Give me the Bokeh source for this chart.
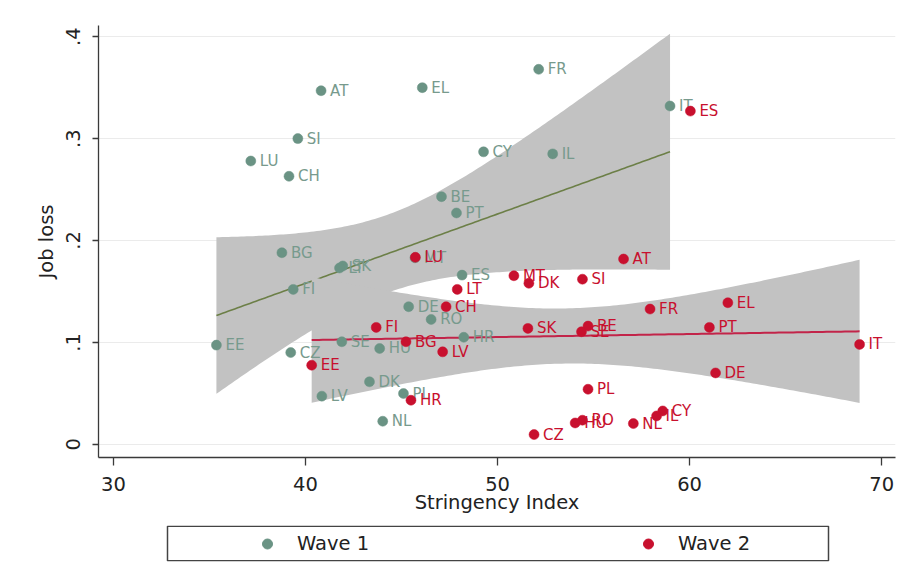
import numpy as np
from bokeh.plotting import figure
from bokeh.layouts import column
from bokeh.models import ColumnDataSource, FixedTicker, Legend, LegendItem, Range1d
from bokeh.core.properties import value
from bokeh.embed import file_html
from bokeh.resources import INLINE

# ---------------- data ----------------
w1_country = ["AT", "EL", "FR", "SI", "LU", "CH", "CY", "IL", "IT", "BE", "PT", "BG",
              "SK", "LT", "MT", "FI", "ES", "DE", "RO", "HR", "EE", "SE", "HU", "CZ",
              "DK", "PL", "LV", "NL"]
w1_stringency = [40.81, 46.08, 52.14, 39.60, 37.15, 39.14, 49.27, 52.87, 58.98, 47.08, 47.86, 38.77,
                 41.94, 41.77, 45.70, 39.36, 48.15, 45.37, 46.54, 48.24, 35.36, 41.89, 43.86, 39.23,
                 43.33, 45.10, 40.85, 44.02]
w1_jobloss = [0.347, 0.350, 0.368, 0.300, 0.278, 0.263, 0.287, 0.285, 0.332, 0.243, 0.227, 0.188,
              0.175, 0.173, 0.183, 0.152, 0.166, 0.135, 0.1225, 0.105, 0.0973, 0.1006, 0.094, 0.090,
              0.0613, 0.0498, 0.0472, 0.0226]

w2_country = ["ES", "LU", "AT", "MT", "DK", "SI", "LT", "CH", "FI", "BG", "LV", "EE",
              "HR", "CZ", "SK", "BE", "SE", "FR", "EL", "PT", "DE", "PL", "RO", "HU",
              "NL", "CY", "IL", "IT"]
w2_stringency = [60.04, 45.72, 56.56, 50.85, 51.63, 54.42, 47.90, 47.32, 43.68, 45.23, 47.14, 40.32,
                 45.49, 51.90, 51.58, 54.71, 54.37, 57.94, 61.99, 61.03, 61.35, 54.71, 54.42, 54.04,
                 57.07, 58.60, 58.28, 68.85]
w2_jobloss = [0.327, 0.1835, 0.1818, 0.1654, 0.158, 0.162, 0.152, 0.135, 0.1147, 0.1006, 0.0907, 0.0776,
              0.0432, 0.0095, 0.1137, 0.116, 0.1104, 0.1327, 0.1389, 0.1147, 0.070, 0.054, 0.0236, 0.0209,
              0.0203, 0.0327, 0.0278, 0.098]

x_ticks = [30, 40, 50, 60, 70]
y_ticks = [0, 0.1, 0.2, 0.3, 0.4]
y_tick_labels = ["0", ".1", ".2", ".3", ".4"]
series_names = ["Wave 1", "Wave 2"]

T95 = 2.0555  # Student t, 0.975 quantile, 26 degrees of freedom


def fit_ci(x, y, npts=150):
    x = np.asarray(x, float)
    y = np.asarray(y, float)
    n = len(x)
    b, a = np.polyfit(x, y, 1)
    resid = y - (a + b * x)
    s = np.sqrt((resid ** 2).sum() / (n - 2))
    xx = np.linspace(x.min(), x.max(), npts)
    yy = a + b * xx
    se = s * np.sqrt(1.0 / n + (xx - x.mean()) ** 2 / ((x - x.mean()) ** 2).sum())
    return xx, yy, yy - T95 * se, yy + T95 * se


# ---------------- styling ----------------
FONT = "DejaVu Sans"
GREEN = "#6a9384"
GREEN_TXT = "#779a8d"
RED = "#c8102e"
LINE_GREEN = "#6c7f47"
LINE_RED = "#c22449"
BAND = "#c2c2c2"
AXIS = "#3a3a3a"
TXT = "#222222"

FRAME_W = 797
LEFT = 98
RIGHT = 6

p = figure(
    x_range=(29.22, 70.72), y_range=(-0.013, 0.411),
    frame_width=FRAME_W, frame_height=432,
    output_backend="svg", toolbar_location=None,
    min_border_left=LEFT, min_border_top=25, min_border_right=RIGHT, min_border_bottom=64,
    background_fill_color="white", border_fill_color="white",
)
p.outline_line_color = None

# confidence bands and fitted lines
f1 = fit_ci(w1_stringency, w1_jobloss)
f2 = fit_ci(w2_stringency, w2_jobloss)
p.varea(x=f1[0], y1=f1[2], y2=f1[3], fill_color=BAND, fill_alpha=1.0)
p.line(x=f1[0], y=f1[1], line_color=LINE_GREEN, line_width=1.6)
p.varea(x=f2[0], y1=f2[2], y2=f2[3], fill_color=BAND, fill_alpha=1.0)
p.line(x=f2[0], y=f2[1], line_color=LINE_RED, line_width=2.0)

# scatter with labels
src1 = ColumnDataSource(dict(x=w1_stringency, y=w1_jobloss, lab=w1_country))
src2 = ColumnDataSource(dict(x=w2_stringency, y=w2_jobloss, lab=w2_country))

p.scatter("x", "y", source=src1, size=10, fill_color=GREEN, line_color=GREEN, line_width=0.5)
p.text("x", "y", text="lab", source=src1, x_offset=9, text_align="left", text_baseline="middle",
       text_font=value(FONT), text_font_size="15px", text_color=GREEN_TXT)
p.scatter("x", "y", source=src2, size=10, fill_color=RED, line_color=RED, line_width=0.5)
p.text("x", "y", text="lab", source=src2, x_offset=9, text_align="left", text_baseline="middle",
       text_font=value(FONT), text_font_size="15px", text_color=RED)

# grid
p.xgrid.visible = False
p.ygrid.ticker = FixedTicker(ticks=y_ticks)
p.ygrid.grid_line_color = "#ebebeb"
p.ygrid.grid_line_width = 1.2

# axes
xa = p.xaxis[0]
xa.ticker = FixedTicker(ticks=x_ticks)
xa.axis_label = "Stringency Index"
xa.minor_tick_line_color = None
xa.major_tick_out = 8
xa.major_tick_in = 0
xa.major_label_standoff = 11
xa.axis_label_standoff = -3

ya = p.yaxis[0]
ya.ticker = FixedTicker(ticks=y_ticks)
ya.major_label_overrides = {t: l for t, l in zip(y_ticks, y_tick_labels)}
ya.axis_label = "Job loss"
ya.minor_tick_line_color = None
ya.major_tick_out = 6
ya.major_tick_in = 0
ya.major_label_orientation = "vertical"
ya.major_label_standoff = 12
ya.axis_label_standoff = 6

for ax in (xa, ya):
    ax.axis_line_color = AXIS
    ax.axis_line_width = 1.3
    ax.major_tick_line_color = AXIS
    ax.major_tick_line_width = 1.3
    ax.major_label_text_font = FONT
    ax.major_label_text_font_size = "19.5px"
    ax.major_label_text_color = TXT
    ax.axis_label_text_font = FONT
    ax.axis_label_text_font_size = "19.5px"
    ax.axis_label_text_font_style = "normal"
    ax.axis_label_text_color = TXT

# ---------------- legend strip (boxed, below the x-axis title) ----------------
# a strip aligned with the main frame; its ranges are in pixels of that strip
lf = figure(
    x_range=Range1d(0, FRAME_W), y_range=Range1d(0, 36),
    frame_width=FRAME_W, frame_height=36,
    output_backend="svg", toolbar_location=None,
    x_axis_type=None, y_axis_type=None,
    min_border_left=LEFT, min_border_top=4, min_border_right=RIGHT, min_border_bottom=4,
    background_fill_color="white", border_fill_color="white",
)
lf.grid.visible = False
lf.outline_line_color = None

# legend box outline
lf.quad(left=69, right=730, bottom=0.75, top=35.25,
        fill_color="white", line_color="#444444", line_width=1.5)

# legend key renderers (one key point each, kept outside the strip's visible range)
lr1 = lf.scatter(x=[-50], y=[-50], size=10, fill_color=GREEN, line_color=GREEN)
lr2 = lf.scatter(x=[-50], y=[-50], size=10, fill_color=RED, line_color=RED)

legend = Legend(
    items=[LegendItem(label=series_names[0], renderers=[lr1]),
           LegendItem(label=series_names[1], renderers=[lr2])],
    orientation="horizontal", location=(149, 5),
    glyph_width=40, glyph_height=25, label_height=25, label_standoff=10,
    label_width=100, spacing=231, padding=0, margin=0,
    label_text_font=FONT, label_text_font_size="19.5px", label_text_color=TXT,
    border_line_alpha=0, background_fill_alpha=0,
)
lf.add_layout(legend)

layout = column(p, lf, spacing=0)
open("out.html", "w").write(file_html(layout, INLINE))
